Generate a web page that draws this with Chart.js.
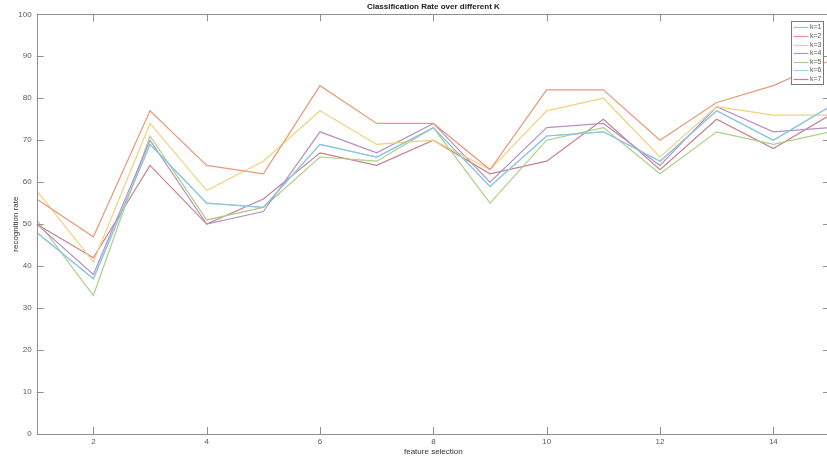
<!DOCTYPE html>
<html>
<head>
<meta charset="utf-8">
<script src="https://cdn.jsdelivr.net/npm/chart.js@4.4.1/dist/chart.umd.min.js"></script>
<style>
  html, body { margin: 0; padding: 0; background: #fff; overflow: hidden; }
  #wrap { width: 840px; height: 458px; }
</style>
</head>
<body>
<div id="wrap"><canvas id="myChart"></canvas></div>
<script>
// feature selection index (x)
const featureIdx = [1, 2, 3, 4, 5, 6, 7, 8, 9, 10, 11, 12, 13, 14, 15];
const xTickValues = [2, 4, 6, 8, 10, 12, 14];

// recognition rate for each k
const rateK1 = [48, 37, 69, 55, 54, 69, 66, 73, 59, 71, 72, 65, 77, 70, 78];
const rateK2 = [56, 47, 77, 64, 62, 83, 74, 74, 63, 82, 82, 70, 79, 83, 89];
const rateK3 = [58, 41, 74, 58, 65, 77, 69, 70, 63, 77, 80, 66, 78, 76, 76];
const rateK4 = [50, 38, 70, 50, 53, 72, 67, 74, 60, 73, 74, 64, 78, 72, 73];
const rateK5 = [51, 33, 71, 51, 54, 66, 65, 73, 55, 70, 73, 62, 72, 69, 72];
const rateK6 = [48, 37, 69, 55, 54, 69, 66, 73, 59, 71, 72, 65, 77, 70, 78];
const rateK7 = [50, 42, 64, 50, 56, 67, 64, 70, 62, 65, 75, 63, 75, 68, 76];

const seriesNames = ["k=1", "k=2", "k=3", "k=4", "k=5", "k=6", "k=7"];
const seriesColors = ["#8ec4e0", "#e8997c", "#f0d27a", "#b691c2", "#abcf88", "#9ad8f0", "#c7808f"];
const allRates = [rateK1, rateK2, rateK3, rateK4, rateK5, rateK6, rateK7];

const axisGrey = "#8f8f8f";
const labelGrey = "#5a5a5a";

const datasets = allRates.map((rates, i) => ({
    label: seriesNames[i],
    data: rates.map((r, j) => ({ x: featureIdx[j], y: r })),
    borderColor: seriesColors[i],
    backgroundColor: seriesColors[i],
    borderWidth: 1.2,
    pointRadius: 0,
    tension: 0,
    fill: false,
}));

// MATLAB-like box with inward ticks
const boxPlugin = {
    id: "boxTicks",
    afterDatasetsDraw(chart) {
        const ctx = chart.ctx;
        const area = chart.chartArea;
        const xs = chart.scales.x;
        const ys = chart.scales.y;
        ctx.save();
        ctx.strokeStyle = axisGrey;
        ctx.lineWidth = 1;
        ctx.strokeRect(Math.round(area.left) + 0.5, Math.round(area.top) + 0.5,
            Math.round(area.right - area.left), Math.round(area.bottom - area.top));
        ctx.beginPath();
        xs.ticks.forEach(t => {
            const px = Math.round(xs.getPixelForValue(t.value)) + 0.5;
            ctx.moveTo(px, area.bottom); ctx.lineTo(px, area.bottom - 7);
            ctx.moveTo(px, area.top); ctx.lineTo(px, area.top + 7);
        });
        ys.ticks.forEach(t => {
            const py = Math.round(ys.getPixelForValue(t.value)) + 0.5;
            ctx.moveTo(area.left, py); ctx.lineTo(area.left + 7, py);
            ctx.moveTo(area.right, py); ctx.lineTo(area.right - 7, py);
        });
        ctx.stroke();
        ctx.restore();
    },
    afterDraw(chart) {
        // legend box in upper right corner
        const ctx = chart.ctx;
        const area = chart.chartArea;
        const left = area.right - 39;
        const top = area.top + 6.5;
        const w = 32;
        const h = 63;
        ctx.save();
        ctx.fillStyle = "#fff";
        ctx.fillRect(left, top, w, h);
        ctx.strokeStyle = "#7a7a7a";
        ctx.lineWidth = 1;
        ctx.strokeRect(Math.round(left) + 0.5, Math.round(top) + 0.5, w, h);
        ctx.font = "7px 'Liberation Sans', Arial, sans-serif";
        ctx.textBaseline = "middle";
        chart.data.datasets.forEach((ds, i) => {
            const y = Math.round(top + 6.5 + i * 8.6) + 0.5;
            ctx.strokeStyle = ds.borderColor;
            ctx.lineWidth = 1.2;
            ctx.beginPath();
            ctx.moveTo(left + 2.5, y);
            ctx.lineTo(left + 17.5, y);
            ctx.stroke();
            ctx.fillStyle = labelGrey;
            ctx.fillText(ds.label, left + 19, y);
        });
        ctx.restore();
    }
};

const config = {
    type: "line",
    data: { datasets: datasets },
    options: {
        responsive: true,
        maintainAspectRatio: false,
        animation: false,
        layout: { padding: { left: 0, right: 10, top: 0, bottom: 0 } },
        plugins: {
            legend: { display: false },
            tooltip: { enabled: false },
            title: {
                display: true,
                fullSize: false,
                text: "Classification Rate over different K",
                color: "#222",
                font: { family: "'Liberation Sans', Arial, sans-serif", size: 8, weight: "bold", lineHeight: 1.2 },
                padding: { top: 2, bottom: 2.7 },
            },
        },
        scales: {
            x: {
                type: "linear",
                min: 1,
                max: 15,
                afterBuildTicks: scale => { scale.ticks = xTickValues.map(v => ({ value: v })); },
                afterFit: scale => { scale.height = 24; },
                grid: { display: false, drawTicks: false },
                border: { display: false },
                ticks: {
                    color: labelGrey,
                    padding: 3,
                    maxRotation: 0,
                    font: { family: "'Liberation Sans', Arial, sans-serif", size: 8 },
                },
                title: {
                    display: true,
                    text: "feature selection",
                    color: "#333",
                    font: { family: "'Liberation Sans', Arial, sans-serif", size: 8 },
                    padding: { top: 0, bottom: 1 },
                },
            },
            y: {
                min: 0,
                max: 100,
                afterFit: scale => { scale.width = 36.7; },
                grid: { display: false, drawTicks: false },
                border: { display: false },
                ticks: {
                    stepSize: 10,
                    color: labelGrey,
                    padding: 5,
                    font: { family: "'Liberation Sans', Arial, sans-serif", size: 8 },
                },
                title: {
                    display: true,
                    text: "recognition rate",
                    color: "#333",
                    font: { family: "'Liberation Sans', Arial, sans-serif", size: 8 },
                    padding: { top: 10.5, bottom: 0 },
                },
            },
        },
    },
    plugins: [boxPlugin],
};

const myChart = new Chart(document.getElementById("myChart"), config);
</script>
</body>
</html>
